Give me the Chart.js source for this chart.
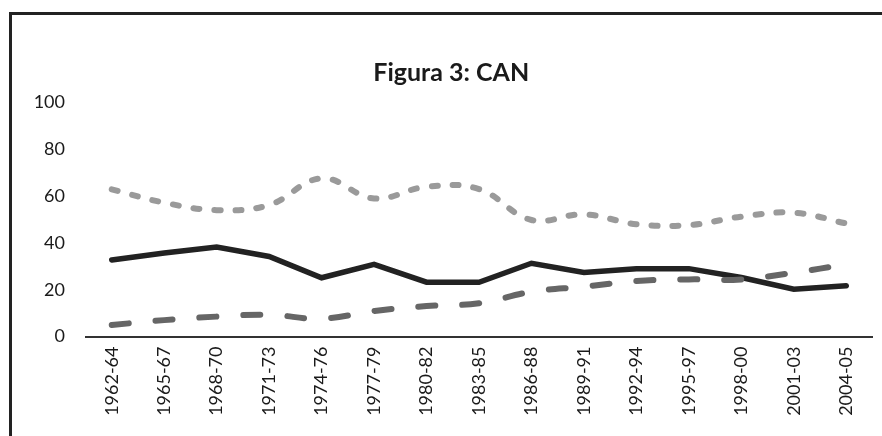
<!DOCTYPE html>
<html>
<head>
<meta charset="utf-8">
<script src="https://cdn.jsdelivr.net/npm/chart.js@4.4.1/dist/chart.umd.min.js"></script>
<style>
  html, body { margin: 0; padding: 0; background: #fff; }
  body { width: 882px; height: 436px; position: relative; overflow: hidden; }
  #frame { position: absolute; left: 9px; top: 12px; width: 900px; height: 460px;
           border-top: 3px solid #222; border-left: 3px solid #222; box-sizing: border-box; }
  #wrap { position: absolute; left: 0; top: 0; width: 882px; height: 436px; }
</style>
</head>
<body>
<div id="frame"></div>
<div id="wrap"><canvas id="c" width="882" height="436"></canvas></div>
<script>
const categories = ["1962-64","1965-67","1968-70","1971-73","1974-76","1977-79","1980-82","1983-85","1986-88","1989-91","1992-94","1995-97","1998-00","2001-03","2004-05"];
const solidSeries = [32.7, 35.7, 38.2, 34.2, 25.1, 30.8, 23.2, 23.2, 31.3, 27.4, 29.0, 29.0, 25.2, 20.2, 21.7];
const dottedSeries = [62.9, 57.2, 54.0, 56.2, 67.6, 59.0, 64.0, 63.0, 49.8, 52.2, 48.0, 47.6, 51.2, 52.9, 48.3];
const dashedSeries = [4.9, 7.0, 8.5, 9.3, 7.6, 10.9, 13.0, 14.2, 19.1, 21.3, 23.7, 24.4, 24.4, 27.3, 30.8];
const yTicks = [0, 20, 40, 60, 80, 100];

new Chart(document.getElementById('c'), {
  type: 'line',
  data: {
    labels: categories,
    datasets: [
      { label: 'A', data: dottedSeries, borderColor: '#9a9a9a', borderWidth: 6,
        borderDash: [6, 15], borderCapStyle: 'round', tension: 0.4, pointRadius: 0, fill: false },
      { label: 'B', data: dashedSeries, borderColor: '#666666', borderWidth: 6,
        borderDash: [17, 27], borderCapStyle: 'round', tension: 0.4, pointRadius: 0, fill: false },
      { label: 'C', data: solidSeries, borderColor: '#222222', borderWidth: 5.5,
        borderCapStyle: 'round', borderJoinStyle: 'miter', tension: 0, pointRadius: 0, fill: false }
    ]
  },
  options: {
    responsive: false,
    animation: false,
    layout: { padding: { left: 30, right: 9.5, top: 0, bottom: 0 } },
    plugins: {
      legend: { display: false },
      tooltip: { enabled: false },
      title: {
        display: true, text: 'Figura 3: CAN', color: '#1a1a1a',
        font: { family: 'Lato', size: 25, weight: 'bold', lineHeight: 1.2 },
        padding: { top: 58, bottom: 14.5 }
      }
    },
    scales: {
      x: {
        type: 'category',
        offset: true,
        grid: { display: false, drawTicks: false },
        border: { display: true, color: '#333', width: 2 },
        ticks: { color: '#1a1a1a', minRotation: 90, maxRotation: 90, padding: 10,
                 font: { family: 'Lato', size: 18 } },
        afterFit: s => { s.height = 99.5; }
      },
      y: {
        min: 0, max: 100,
        afterBuildTicks: s => { s.ticks = yTicks.map(v => ({ value: v })); },
        grid: { display: false, drawTicks: false },
        border: { display: false },
        ticks: { color: '#1a1a1a', padding: 20.5, font: { family: 'Lato', size: 18 } },
        afterFit: s => { s.width = 55.5; }
      }
    }
  }
});
</script>
</body>
</html>
